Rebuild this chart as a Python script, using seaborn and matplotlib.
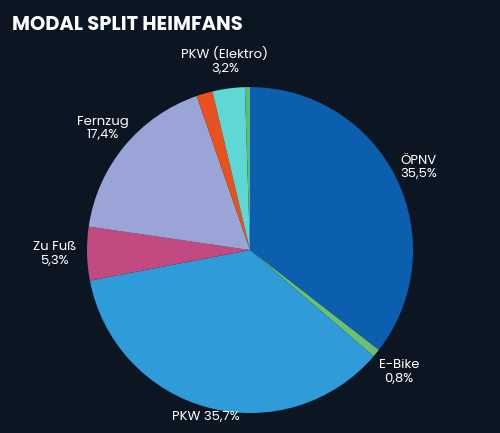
import matplotlib
matplotlib.use("Agg")
import matplotlib.pyplot as plt
import seaborn as sns
import numpy as np

sns.set_theme(style="dark")
plt.rcParams['font.family'] = ['Poppins', 'Lato', 'DejaVu Sans']

categories = ["ÖPNV", "E-Bike", "PKW", "Zu Fuß", "Fernzug", "Sonstige", "PKW (Elektro)", "Fahrrad"]
values = [35.5, 0.8, 35.7, 5.3, 17.4, 1.6, 3.2, 0.5]
labels = ["ÖPNV\n35,5%", "E-Bike\n0,8%", "PKW 35,7%", "Zu Fuß\n5,3%", "Fernzug\n17,4%", "", "PKW (Elektro)\n3,2%", ""]
colors = ["#0b5fae", "#6cc070", "#2f9bd9", "#c14b81", "#9ba4d7", "#e9521f", "#5fd7d5", "#5dbf6a"]
bg = "#0b1622"

fig = plt.figure(figsize=(5, 4.33), dpi=100, facecolor=bg)
ax = fig.add_axes([0.174, 0.046, 0.652, 0.753])
ax.set_facecolor(bg)
wedges, _ = ax.pie(values, colors=colors, startangle=90, counterclock=False,
                   wedgeprops=dict(linewidth=0))
ax.set_aspect("equal")
ax.set_xlim(-1, 1)
ax.set_ylim(-1, 1)
dists = [1.15, 1.18, 1.06, 1.2, 1.17, 1.2, 1.17, 1.2]
for w, lab, d in zip(wedges, labels, dists):
    if not lab:
        continue
    ang = np.deg2rad((w.theta1 + w.theta2) / 2)
    x, y = d * np.cos(ang), d * np.sin(ang)
    ax.text(x, y, lab, ha="center", va="center", color="white", fontsize=9.5,
            linespacing=1.2, clip_on=False)
fig.text(0.025, 0.94, "MODAL SPLIT HEIMFANS", color="white", fontsize=14, fontweight="bold", ha="left", va="center")
fig.savefig("out.png", facecolor=bg)
